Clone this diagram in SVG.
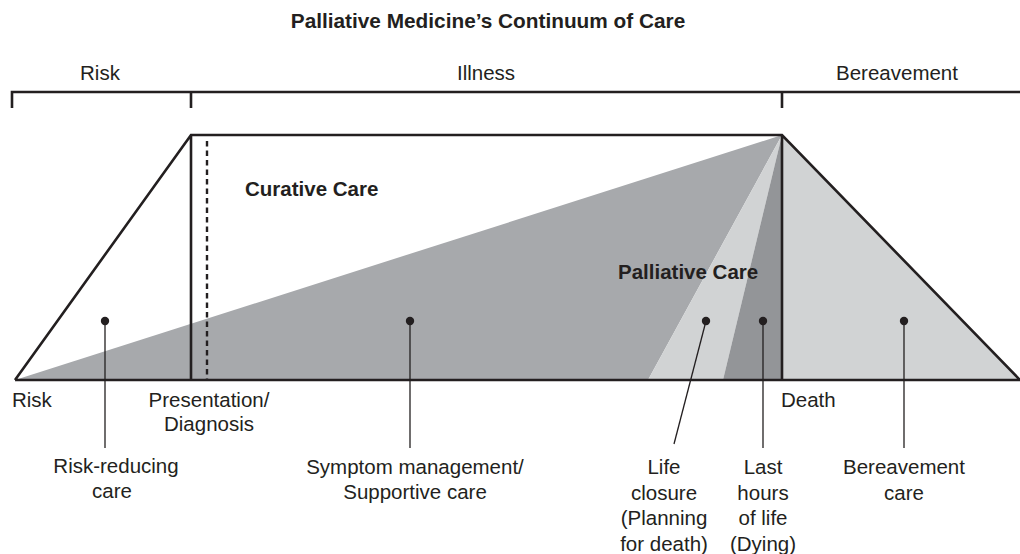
<svg xmlns="http://www.w3.org/2000/svg" width="1020" height="554" viewBox="0 0 1020 554">
<style>
text{font-family:"Liberation Sans",Arial,sans-serif;fill:#231f20;font-size:20.5px}
.b{font-weight:bold}
.t{font-weight:bold;font-size:20.8px}
.c{text-anchor:middle}
.ol{stroke:#231f20;stroke-width:2.6;fill:none}
.ld{stroke:#231f20;stroke-width:1.3;fill:none}
.dot{fill:#231f20}
</style>
<rect width="1020" height="554" fill="#fff"/>
<text class="t c" x="488" y="28">Palliative Medicine’s Continuum of Care</text>
<g id="phases">
<text class="c" x="100" y="80">Risk</text>
<text class="c" x="486" y="80">Illness</text>
<text class="c" x="897" y="80">Bereavement</text>
<path class="ol" d="M12,108 V92 H1020 M191,92 V108 M782,92 V108"/>
</g>
<g id="areas">
<polygon points="15,380 782,135 648,380" fill="#a7a9ac"/>
<polygon points="648,380 782,135 723,380" fill="#d1d3d4"/>
<polygon points="723,380 782,135 782,380" fill="#939598"/>
<polygon points="782,135 1020,380 782,380" fill="#d1d3d4"/>
</g>
<g id="outline">
<path class="ol" d="M15,380 L191,135 H782 L1020,380 M15,380 H1020 M191,135 V380 M782,135 V380"/>
<line x1="207" y1="141" x2="207" y2="380" stroke="#231f20" stroke-width="2.4" stroke-dasharray="5.5,4"/>
</g>
<text class="b" x="245" y="196" font-size="21">Curative Care</text>
<text class="b" x="618" y="279" font-size="21">Palliative Care</text>
<g id="axis-labels">
<text x="12" y="407">Risk</text>
<text class="c" x="209" y="407">Presentation/</text>
<text class="c" x="209" y="431">Diagnosis</text>
<text x="781" y="407">Death</text>
</g>
<g id="connectors">
<line class="ld" x1="105" y1="321" x2="105" y2="448"/>
<line class="ld" x1="410" y1="321" x2="410" y2="448"/>
<line class="ld" x1="706" y1="321" x2="674" y2="444"/>
<line class="ld" x1="763" y1="321" x2="763" y2="448"/>
<line class="ld" x1="904" y1="321" x2="904" y2="448"/>
</g>
<g id="risk-reducing">
<circle class="dot" cx="105" cy="321" r="4.2"/>
<text class="c" x="116" y="473">Risk-reducing</text>
<text class="c" x="112" y="498">care</text>
</g>
<g id="symptom">
<circle class="dot" cx="410" cy="321" r="4.2"/>
<text class="c" x="415" y="474">Symptom management/</text>
<text class="c" x="415" y="499">Supportive care</text>
</g>
<g id="life-closure">
<circle class="dot" cx="706" cy="321" r="4.2"/>
<text class="c" x="664" y="474">Life</text>
<text class="c" x="664" y="499.5">closure</text>
<text class="c" x="664" y="525">(Planning</text>
<text class="c" x="664" y="550.5">for death)</text>
</g>
<g id="last-hours">
<circle class="dot" cx="763" cy="321" r="4.2"/>
<text class="c" x="763" y="474">Last</text>
<text class="c" x="763" y="499.5">hours</text>
<text class="c" x="763" y="525">of life</text>
<text class="c" x="763" y="550.5">(Dying)</text>
</g>
<g id="bereavement-care">
<circle class="dot" cx="904" cy="321" r="4.2"/>
<text class="c" x="904" y="474">Bereavement</text>
<text class="c" x="904" y="499.5">care</text>
</g>
</svg>
